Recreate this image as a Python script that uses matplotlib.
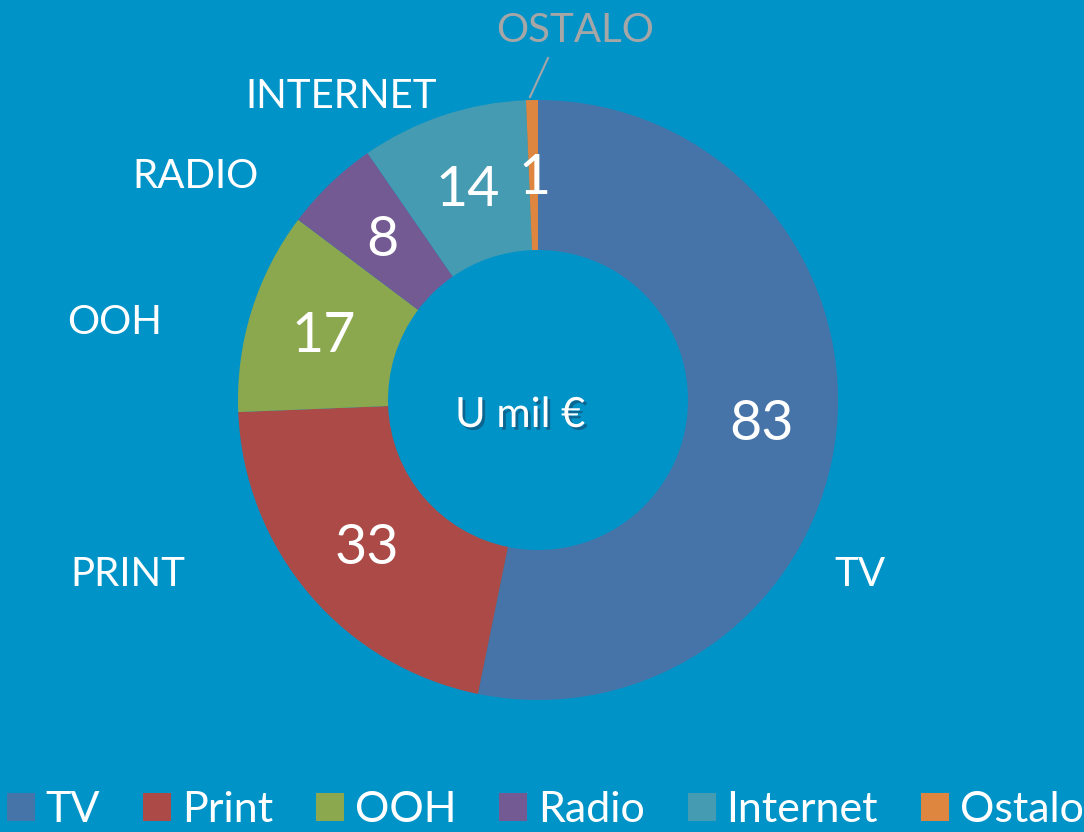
import matplotlib
matplotlib.use("Agg")
import matplotlib.pyplot as plt
import matplotlib.patheffects as pe
from matplotlib.patches import Patch

# data
categories = ["TV", "Print", "OOH", "Radio", "Internet", "Ostalo"]
values = [83, 33, 17, 8, 14, 1]
outer_labels = ["TV", "PRINT", "OOH", "RADIO", "INTERNET", "OSTALO"]
colors = ["#4674A8", "#AB4A47", "#8CA84F", "#745A92", "#459BB2", "#DE8640"]

bg = "#0093C8"
plt.rcParams['font.family'] = ['Lato', 'DejaVu Sans']

fig = plt.figure(figsize=(10.84, 8.32), dpi=100, facecolor=bg)
ax = fig.add_axes([0, 0, 1, 1])
ax.set_facecolor(bg)

cx, cy, R = 538, 432, 300
ax.pie(values, colors=colors, startangle=90, counterclock=False,
       radius=R, center=(cx, cy),
       wedgeprops=dict(width=150, edgecolor='none'))
ax.set_xlim(0, 1084)
ax.set_ylim(0, 832)
ax.set_aspect('equal')
ax.axis('off')

# label positions in pixel coords (y from top)
value_pos = [(762, 425), (367, 548), (324, 337), (382, 240), (468, 190), (535, 178)]
label_pos = [(860, 575), (128, 575), (115, 322), (196, 176), (341, 97), (575, 30)]

for v, (x, y) in zip(values, value_pos):
    ax.text(x, 832 - y, str(v), color='white', fontsize=40,
            ha='center', va='center')

for lab, (x, y) in zip(outer_labels, label_pos):
    col = '#A6A6A6' if lab == "OSTALO" else 'white'
    ax.text(x, 832 - y, lab, color=col, fontsize=29, ha='center', va='center')

# leader line for the tiny slice
ax.plot([548, 530], [832 - 58, 832 - 97], color='#A6A6A6', lw=1.5)

ax.text(520, 832 - 415, "U mil €", color='white', fontsize=30,
        ha='center', va='center',
        path_effects=[pe.withSimplePatchShadow(offset=(2, -2), shadow_rgbFace='#1a3a5a', alpha=0.5)])

handles = [Patch(facecolor=c, edgecolor='none') for c in colors]
fig.legend(handles, categories, loc='lower center', ncol=6,
           bbox_to_anchor=(0.503, -0.043), frameon=False,
           fontsize=31, labelcolor='white',
           handlelength=0.65, handleheight=0.65, handletextpad=0.25,
           columnspacing=1.0)

fig.savefig("out.png", dpi=100, facecolor=bg)
